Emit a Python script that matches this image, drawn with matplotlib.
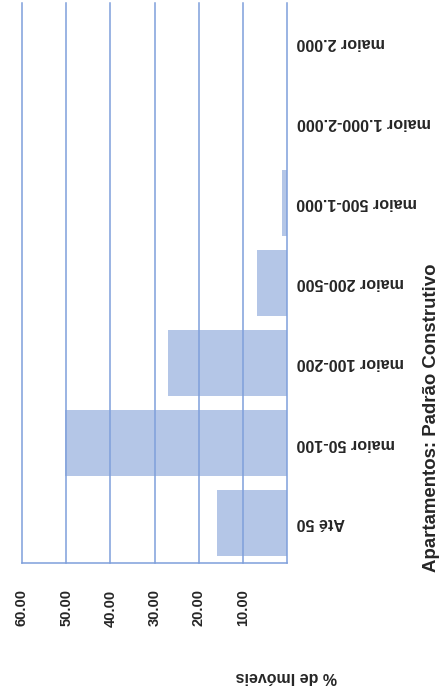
"""
Apartamentos: distribuicao por padrao construtivo (grafico girado)
"""

import matplotlib
matplotlib.use("Agg")
import matplotlib.pyplot as plt

categorias = [
    "Até 50",
    "maior 50-100",
    "maior 100-200",
    "maior 200-500",
    "maior 500-1.000",
    "maior 1.000-2.000",
    "maior 2.000",
]
percentuais = [15.8, 50.2, 26.9, 6.8, 1.1, 0.0, 0.0]
ticks_valor = [10, 20, 30, 40, 50, 60]

titulo = "Apartamentos: Padrão Construtivo"
titulo_eixo = "% de Imóveis"

cor_barra = "#b4c6e7"
cor_linha = "#7f9fdb"
cor_texto = "#262626"

plt.rcParams["font.family"] = ["Liberation Sans", "DejaVu Sans"]
plt.rcParams["font.weight"] = "bold"

fig = plt.figure(figsize=(4.42, 6.95), dpi=100)
ax = fig.add_axes([22 / 442, 1 - 563 / 695, 265 / 442, 560 / 695])

pos = list(range(len(categorias)))
ax.barh(pos, percentuais, height=0.82, color=cor_barra, zorder=1)

ax.set_xlim(60, 0)
ax.set_ylim(-0.5, len(categorias) - 0.5)

ax.set_xticks(ticks_valor)
ax.set_xticklabels([f"{v:.2f}" for v in ticks_valor], rotation=90,
                   fontsize=10.5, fontweight="bold", color=cor_texto,
                   va="top", ha="center")
ax.tick_params(axis="x", length=0, pad=19)

ax.yaxis.tick_right()
ax.set_yticks(pos)
ax.set_yticklabels(categorias, rotation=180, fontsize=11.6,
                   fontweight="bold", color=cor_texto, ha="left",
                   va="center")
ax.tick_params(axis="y", length=0, pad=7)

ax.grid(True, axis="x", color=cor_linha, linewidth=1.1, zorder=3)
for linha in ax.xaxis.get_gridlines():
    linha.set_clip_on(False)
ax.set_axisbelow(False)

for lado in ["top", "left"]:
    ax.spines[lado].set_visible(False)
for lado in ["bottom", "right"]:
    ax.spines[lado].set_color(cor_linha)
    ax.spines[lado].set_linewidth(1.1)
    ax.spines[lado].set_zorder(4)

fig.text(431 / 442, 1 - 418 / 695, titulo, rotation=90, fontsize=13.4,
         fontweight="bold", color=cor_texto, ha="center", va="center")
fig.text(286 / 442, 1 - 677 / 695, titulo_eixo, rotation=180,
         fontsize=11.5, fontweight="bold", color=cor_texto,
         ha="center", va="center")

fig.savefig("out.png", dpi=100)
plt.close(fig)
